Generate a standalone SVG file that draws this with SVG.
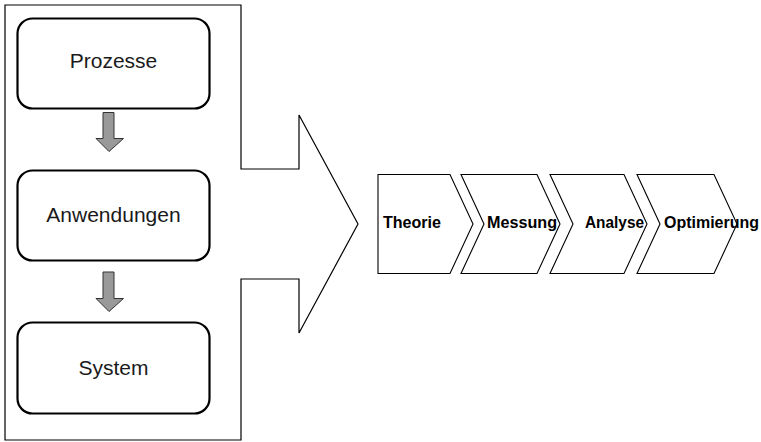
<svg xmlns="http://www.w3.org/2000/svg" width="761" height="442" viewBox="0 0 761 442">
<style>
.frame{fill:#fff;stroke:#000;stroke-width:1.2}
.box{fill:#fff;stroke:#000;stroke-width:2.2}
.lbl{font-family:"Liberation Sans",Arial,sans-serif;font-size:21px;fill:#1a1a1a;text-anchor:middle}
.chev{fill:#fff;stroke:#000;stroke-width:1.1}
.clbl{font-family:"Liberation Sans",Arial,sans-serif;font-size:16px;font-weight:bold;fill:#000}
.garrow{fill:#999;stroke:#333;stroke-width:1}
</style>
<rect width="761" height="442" fill="#fff"/>
<g id="frame">
<polygon class="frame" points="5,5 241,5 241,169 299,169 299,115 358,224 299,333 299,279 241,279 241,440 5,440"/>
</g>
<g id="prozesse">
<rect class="box" x="17.5" y="18.5" width="192" height="90" rx="15"/>
<text class="lbl" x="113.5" y="68">Prozesse</text>
</g>
<g id="anwendungen">
<rect class="box" x="17.5" y="170.5" width="192" height="90" rx="15"/>
<text class="lbl" x="113.5" y="221.5">Anwendungen</text>
</g>
<g id="system">
<rect class="box" x="17.5" y="322.5" width="192" height="91" rx="15"/>
<text class="lbl" x="113.5" y="375">System</text>
</g>
<g id="connectors">
<polygon class="garrow" points="103,112.5 114,112.5 114,138.5 123.5,138.5 109,151.5 96,138.5 103,138.5"/>
<polygon class="garrow" points="103,272 114,272 114,298.5 123.5,298.5 109,311.5 96,298.5 103,298.5"/>
</g>
<g id="theorie">
<polygon class="chev" points="378,174.5 450,174.5 473,224 450,273.5 378,273.5"/>
<text class="clbl" x="383" y="228" textLength="58" lengthAdjust="spacingAndGlyphs">Theorie</text>
</g>
<g id="messung">
<polygon class="chev" points="461,174.5 537,174.5 560,224 537,273.5 461,273.5 484,224"/>
<text class="clbl" x="487" y="228" textLength="70" lengthAdjust="spacingAndGlyphs">Messung</text>
</g>
<g id="analyse">
<polygon class="chev" points="550,174.5 624,174.5 647,224 624,273.5 550,273.5 573,224"/>
<text class="clbl" x="585" y="228" textLength="59" lengthAdjust="spacingAndGlyphs">Analyse</text>
</g>
<g id="optimierung">
<polygon class="chev" points="637,174.5 714,174.5 737,224 714,273.5 637,273.5 660,224"/>
<text class="clbl" x="664" y="228" textLength="95" lengthAdjust="spacingAndGlyphs">Optimierung</text>
</g>
</svg>
